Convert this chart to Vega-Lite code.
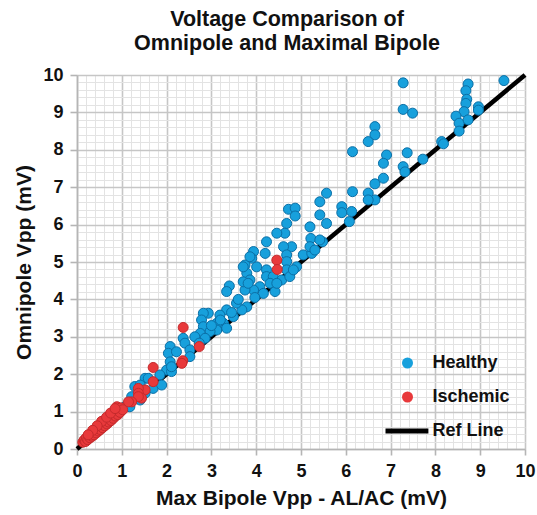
{
  "$schema": "https://vega.github.io/schema/vega-lite/v6.json",
  "width": 448,
  "height": 374,
  "autosize": "none",
  "padding": {"left": 77, "top": 75, "right": 12, "bottom": 66},
  "background": "white",
  "config": {"view": {"stroke": null}, "font": "Liberation Sans"},
  "title": {"text": ["Voltage Comparison of", "Omnipole and Maximal Bipole"], "font": "Liberation Sans", "fontSize": 21.5, "fontWeight": "bold", "color": "#111111", "anchor": "middle", "dx": -14, "offset": 12, "lineHeight": 24},
  "datasets": {
    "ref": [{"x": 0, "y": 0, "s": "Ref Line"}, {"x": 10, "y": 10, "s": "Ref Line"}],
    "pts": [
      {"x":7.28,"y":9.79,"s":"Healthy"},{"x":8.73,"y":9.76,"s":"Healthy"},{"x":8.68,"y":9.58,"s":"Healthy"},{"x":9.53,"y":9.85,"s":"Healthy"},
      {"x":7.28,"y":9.08,"s":"Healthy"},{"x":7.49,"y":8.98,"s":"Healthy"},{"x":8.70,"y":9.35,"s":"Healthy"},{"x":8.68,"y":9.24,"s":"Healthy"},
      {"x":8.96,"y":9.15,"s":"Healthy"},{"x":8.96,"y":9.06,"s":"Healthy"},{"x":8.64,"y":9.02,"s":"Healthy"},{"x":8.46,"y":8.90,"s":"Healthy"},
      {"x":8.53,"y":8.71,"s":"Healthy"},{"x":8.73,"y":8.80,"s":"Healthy"},{"x":8.53,"y":8.50,"s":"Healthy"},{"x":8.14,"y":8.22,"s":"Healthy"},
      {"x":8.18,"y":8.16,"s":"Healthy"},{"x":7.72,"y":7.75,"s":"Healthy"},{"x":7.37,"y":7.92,"s":"Healthy"},{"x":7.28,"y":7.55,"s":"Healthy"},
      {"x":7.32,"y":7.41,"s":"Healthy"},{"x":6.65,"y":8.62,"s":"Healthy"},{"x":6.65,"y":8.40,"s":"Healthy"},{"x":6.50,"y":8.22,"s":"Healthy"},
      {"x":6.15,"y":7.95,"s":"Healthy"},{"x":6.91,"y":7.86,"s":"Healthy"},{"x":6.84,"y":7.64,"s":"Healthy"},{"x":6.84,"y":7.24,"s":"Healthy"},
      {"x":6.65,"y":7.09,"s":"Healthy"},{"x":6.50,"y":6.84,"s":"Healthy"},{"x":6.65,"y":6.66,"s":"Healthy"},{"x":6.50,"y":6.66,"s":"Healthy"},
      {"x":6.15,"y":6.88,"s":"Healthy"},{"x":5.57,"y":6.84,"s":"Healthy"},{"x":5.42,"y":6.61,"s":"Healthy"},{"x":5.91,"y":6.48,"s":"Healthy"},
      {"x":5.91,"y":6.32,"s":"Healthy"},{"x":6.13,"y":6.35,"s":"Healthy"},{"x":6.08,"y":6.08,"s":"Healthy"},{"x":5.42,"y":6.26,"s":"Healthy"},
      {"x":5.57,"y":6.03,"s":"Healthy"},{"x":5.20,"y":5.94,"s":"Healthy"},{"x":5.22,"y":5.63,"s":"Healthy"},{"x":5.48,"y":5.54,"s":"Healthy"},
      {"x":5.05,"y":5.19,"s":"Healthy"},{"x":5.24,"y":5.23,"s":"Healthy"},{"x":4.72,"y":6.41,"s":"Healthy"},{"x":4.87,"y":6.44,"s":"Healthy"},
      {"x":4.87,"y":6.23,"s":"Healthy"},{"x":4.68,"y":6.03,"s":"Healthy"},{"x":4.64,"y":5.77,"s":"Healthy"},{"x":4.79,"y":5.41,"s":"Healthy"},
      {"x":4.46,"y":5.77,"s":"Healthy"},{"x":5.42,"y":5.59,"s":"Healthy"},{"x":5.20,"y":5.41,"s":"Healthy"},{"x":4.61,"y":5.41,"s":"Healthy"},
      {"x":4.23,"y":5.54,"s":"Healthy"},{"x":3.94,"y":5.28,"s":"Healthy"},{"x":4.20,"y":5.23,"s":"Healthy"},{"x":4.68,"y":5.19,"s":"Healthy"},
      {"x":5.31,"y":5.32,"s":"Healthy"},{"x":3.90,"y":5.10,"s":"Healthy"},{"x":3.75,"y":4.92,"s":"Healthy"},{"x":4.01,"y":4.87,"s":"Healthy"},
      {"x":4.68,"y":5.01,"s":"Healthy"},{"x":4.90,"y":4.87,"s":"Healthy"},{"x":4.68,"y":4.79,"s":"Healthy"},{"x":4.23,"y":4.79,"s":"Healthy"},
      {"x":3.79,"y":4.70,"s":"Healthy"},{"x":3.86,"y":4.52,"s":"Healthy"},{"x":4.23,"y":4.61,"s":"Healthy"},{"x":4.38,"y":4.61,"s":"Healthy"},
      {"x":4.31,"y":4.43,"s":"Healthy"},{"x":4.57,"y":4.52,"s":"Healthy"},{"x":4.08,"y":4.34,"s":"Healthy"},{"x":3.94,"y":4.25,"s":"Healthy"},
      {"x":3.75,"y":4.25,"s":"Healthy"},{"x":3.40,"y":4.36,"s":"Healthy"},{"x":3.34,"y":4.21,"s":"Healthy"},{"x":4.16,"y":4.16,"s":"Healthy"},
      {"x":4.42,"y":4.21,"s":"Healthy"},{"x":3.71,"y":4.87,"s":"Healthy"},{"x":3.71,"y":4.47,"s":"Healthy"},{"x":3.86,"y":5.14,"s":"Healthy"},
      {"x":3.82,"y":4.43,"s":"Healthy"},{"x":3.79,"y":3.80,"s":"Healthy"},{"x":4.46,"y":4.43,"s":"Healthy"},{"x":4.75,"y":4.61,"s":"Healthy"},
      {"x":4.83,"y":4.79,"s":"Healthy"},{"x":3.68,"y":3.72,"s":"Healthy"},{"x":3.49,"y":3.54,"s":"Healthy"},{"x":3.34,"y":3.72,"s":"Healthy"},
      {"x":3.19,"y":3.58,"s":"Healthy"},{"x":3.27,"y":3.36,"s":"Healthy"},{"x":3.12,"y":3.36,"s":"Healthy"},{"x":3.34,"y":3.23,"s":"Healthy"},
      {"x":3.12,"y":3.18,"s":"Healthy"},{"x":2.93,"y":3.63,"s":"Healthy"},{"x":2.82,"y":3.63,"s":"Healthy"},{"x":2.78,"y":3.45,"s":"Healthy"},
      {"x":2.82,"y":3.27,"s":"Healthy"},{"x":2.97,"y":3.14,"s":"Healthy"},{"x":2.75,"y":3.09,"s":"Healthy"},{"x":2.63,"y":3.00,"s":"Healthy"},
      {"x":2.86,"y":2.96,"s":"Healthy"},{"x":2.73,"y":2.83,"s":"Healthy"},{"x":2.37,"y":2.96,"s":"Healthy"},{"x":2.41,"y":2.83,"s":"Healthy"},
      {"x":2.08,"y":2.74,"s":"Healthy"},{"x":2.04,"y":2.56,"s":"Healthy"},{"x":2.22,"y":2.60,"s":"Healthy"},{"x":2.52,"y":2.65,"s":"Healthy"},
      {"x":2.52,"y":2.47,"s":"Healthy"},{"x":2.08,"y":2.33,"s":"Healthy"},{"x":2.00,"y":2.11,"s":"Healthy"},{"x":2.11,"y":2.07,"s":"Healthy"},
      {"x":1.85,"y":1.98,"s":"Healthy"},{"x":1.52,"y":1.89,"s":"Healthy"},{"x":1.29,"y":1.67,"s":"Healthy"},{"x":1.41,"y":1.71,"s":"Healthy"},
      {"x":1.59,"y":1.89,"s":"Healthy"},{"x":1.22,"y":1.40,"s":"Healthy"},{"x":1.07,"y":1.13,"s":"Healthy"},{"x":0.96,"y":1.00,"s":"Healthy"},
      {"x":1.70,"y":1.62,"s":"Healthy"},{"x":1.89,"y":1.71,"s":"Healthy"},{"x":2.11,"y":2.20,"s":"Healthy"},{"x":1.18,"y":1.13,"s":"Healthy"},
      {"x":1.41,"y":1.31,"s":"Healthy"},{"x":1.52,"y":1.49,"s":"Healthy"},{"x":3.56,"y":3.90,"s":"Healthy"},{"x":3.60,"y":4.00,"s":"Healthy"},
      {"x":3.97,"y":4.05,"s":"Healthy"},{"x":3.00,"y":3.30,"s":"Healthy"},{"x":3.20,"y":3.45,"s":"Healthy"},{"x":3.45,"y":3.65,"s":"Healthy"},
      {"x":4.46,"y":5.05,"s":"Ischemic"},{"x":4.47,"y":4.80,"s":"Ischemic"},{"x":2.37,"y":3.25,"s":"Ischemic"},{"x":2.73,"y":2.74,"s":"Ischemic"},
      {"x":2.36,"y":2.36,"s":"Ischemic"},{"x":2.34,"y":2.29,"s":"Ischemic"},{"x":1.70,"y":2.18,"s":"Ischemic"},{"x":1.70,"y":1.80,"s":"Ischemic"},
      {"x":1.52,"y":1.58,"s":"Ischemic"},{"x":1.37,"y":1.62,"s":"Ischemic"},{"x":1.37,"y":1.49,"s":"Ischemic"},{"x":1.44,"y":1.36,"s":"Ischemic"},
      {"x":1.37,"y":1.40,"s":"Ischemic"},{"x":1.22,"y":1.26,"s":"Ischemic"},{"x":1.15,"y":1.26,"s":"Ischemic"},{"x":0.89,"y":1.13,"s":"Ischemic"},
      {"x":0.13,"y":0.18,"s":"Ischemic"},{"x":0.16,"y":0.24,"s":"Ischemic"},{"x":0.19,"y":0.20,"s":"Ischemic"},{"x":0.21,"y":0.30,"s":"Ischemic"},
      {"x":0.24,"y":0.25,"s":"Ischemic"},{"x":0.26,"y":0.35,"s":"Ischemic"},{"x":0.29,"y":0.30,"s":"Ischemic"},{"x":0.31,"y":0.40,"s":"Ischemic"},
      {"x":0.34,"y":0.34,"s":"Ischemic"},{"x":0.36,"y":0.46,"s":"Ischemic"},{"x":0.38,"y":0.38,"s":"Ischemic"},{"x":0.41,"y":0.50,"s":"Ischemic"},
      {"x":0.43,"y":0.43,"s":"Ischemic"},{"x":0.45,"y":0.56,"s":"Ischemic"},{"x":0.48,"y":0.48,"s":"Ischemic"},{"x":0.50,"y":0.60,"s":"Ischemic"},
      {"x":0.52,"y":0.52,"s":"Ischemic"},{"x":0.55,"y":0.66,"s":"Ischemic"},{"x":0.57,"y":0.57,"s":"Ischemic"},{"x":0.60,"y":0.70,"s":"Ischemic"},
      {"x":0.62,"y":0.62,"s":"Ischemic"},{"x":0.64,"y":0.76,"s":"Ischemic"},{"x":0.67,"y":0.67,"s":"Ischemic"},{"x":0.69,"y":0.80,"s":"Ischemic"},
      {"x":0.71,"y":0.72,"s":"Ischemic"},{"x":0.74,"y":0.86,"s":"Ischemic"},{"x":0.76,"y":0.76,"s":"Ischemic"},{"x":0.78,"y":0.90,"s":"Ischemic"},
      {"x":0.81,"y":0.82,"s":"Ischemic"},{"x":0.83,"y":0.95,"s":"Ischemic"},{"x":0.86,"y":0.88,"s":"Ischemic"},{"x":0.88,"y":1.00,"s":"Ischemic"},
      {"x":0.91,"y":0.92,"s":"Ischemic"},{"x":0.93,"y":1.06,"s":"Ischemic"},{"x":0.96,"y":0.98,"s":"Ischemic"},{"x":0.98,"y":1.10,"s":"Ischemic"},
      {"x":1.02,"y":1.05,"s":"Ischemic"},{"x":0.55,"y":0.74,"s":"Ischemic"},{"x":0.45,"y":0.62,"s":"Ischemic"},{"x":0.66,"y":0.85,"s":"Ischemic"},
      {"x":0.35,"y":0.50,"s":"Ischemic"},{"x":0.75,"y":0.96,"s":"Ischemic"},{"x":0.85,"y":1.08,"s":"Ischemic"},{"x":0.25,"y":0.38,"s":"Ischemic"}
    ]
  },
  "layer": [
    {
      "data": {"name": "ref"},
      "mark": {"type": "line", "strokeWidth": 4.5, "strokeCap": "butt"},
      "encoding": {
        "x": {"field": "x", "type": "quantitative", "scale": {"domain": [0, 10], "nice": false, "zero": false},
          "axis": {"orient": "bottom", "values": [0.2,0.4,0.6,0.8,1.2,1.4,1.6,1.8,2.2,2.4,2.6,2.8,3.2,3.4,3.6,3.8,4.2,4.4,4.6,4.8,5.2,5.4,5.6,5.8,6.2,6.4,6.6,6.8,7.2,7.4,7.6,7.8,8.2,8.4,8.6,8.8,9.2,9.4,9.6,9.8],
            "grid": true, "gridColor": "#e3e3e3", "gridWidth": 1, "labels": false, "ticks": false, "domain": false, "title": null}},
        "y": {"field": "y", "type": "quantitative", "scale": {"domain": [0, 10], "nice": false, "zero": false},
          "axis": {"orient": "left", "values": [0.2,0.4,0.6,0.8,1.2,1.4,1.6,1.8,2.2,2.4,2.6,2.8,3.2,3.4,3.6,3.8,4.2,4.4,4.6,4.8,5.2,5.4,5.6,5.8,6.2,6.4,6.6,6.8,7.2,7.4,7.6,7.8,8.2,8.4,8.6,8.8,9.2,9.4,9.6,9.8],
            "grid": true, "gridColor": "#e3e3e3", "gridWidth": 1, "labels": false, "ticks": false, "domain": false, "title": null}},
        "color": {"field": "s", "type": "nominal",
          "scale": {"domain": ["Healthy", "Ischemic", "Ref Line"], "range": ["#17a0dc", "#e8393b", "#000000"]}}
      }
    },
    {
      "data": {"name": "pts"},
      "mark": {"type": "point", "filled": true, "size": 100, "opacity": 1, "strokeWidth": 1},
      "encoding": {
        "x": {"field": "x", "type": "quantitative",
          "axis": {"orient": "bottom", "values": [0,1,2,3,4,5,6,7,8,9,10], "grid": true, "gridColor": "#c6c6c6", "gridWidth": 1.6, "labelFlush": false,
            "domainColor": "#b5b5b5", "domainWidth": 1.6, "tickColor": "#b5b5b5", "tickWidth": 1.6, "tickSize": 6,
            "labelFont": "Liberation Sans", "labelFontSize": 18, "labelFontWeight": "bold", "labelColor": "#111111", "labelPadding": 7,
            "title": "Max Bipole Vpp - AL/AC (mV)", "titleFont": "Liberation Sans", "titleFontSize": 21, "titleFontWeight": "bold", "titleColor": "#111111", "titlePadding": 7}},
        "y": {"field": "y", "type": "quantitative",
          "axis": {"orient": "left", "values": [0,1,2,3,4,5,6,7,8,9,10], "grid": true, "gridColor": "#c6c6c6", "gridWidth": 1.6, "labelFlush": false,
            "domainColor": "#b5b5b5", "domainWidth": 1.6, "tickColor": "#b5b5b5", "tickWidth": 1.6, "tickSize": 7,
            "labelFont": "Liberation Sans", "labelFontSize": 18, "labelFontWeight": "bold", "labelColor": "#111111", "labelPadding": 7,
            "title": "Omnipole Vpp (mV)", "titleFont": "Liberation Sans", "titleFontSize": 21, "titleFontWeight": "bold", "titleColor": "#111111", "titlePadding": 8}},
        "color": {"field": "s", "type": "nominal",
          "legend": {"orient": "none", "legendX": 321.5, "legendY": 279, "title": null, "padding": 0,
            "labelFont": "Liberation Sans", "labelFontSize": 18, "labelFontWeight": "bold", "labelColor": "#111111",
            "symbolSize": 121, "labelOffset": 16, "rowPadding": 16, "symbolStrokeWidth": 0}},
        "shape": {"field": "s", "type": "nominal",
          "scale": {"domain": ["Healthy", "Ischemic", "Ref Line"], "range": ["circle", "circle", "M-4,-0.45H3.8V0.45H-4Z"]},
          "legend": {"orient": "none", "legendX": 321.5, "legendY": 279, "title": null, "padding": 0,
            "labelFont": "Liberation Sans", "labelFontSize": 18, "labelFontWeight": "bold", "labelColor": "#111111",
            "symbolSize": 121, "labelOffset": 16, "rowPadding": 16, "symbolStrokeWidth": 0}},
        "stroke": {"condition": {"test": "datum.s === 'Healthy'", "value": "#0b6fa6"}, "value": "#c42a2c"}
      }
    }
  ],
  "resolve": {"axis": {"x": "independent", "y": "independent"}}
}
